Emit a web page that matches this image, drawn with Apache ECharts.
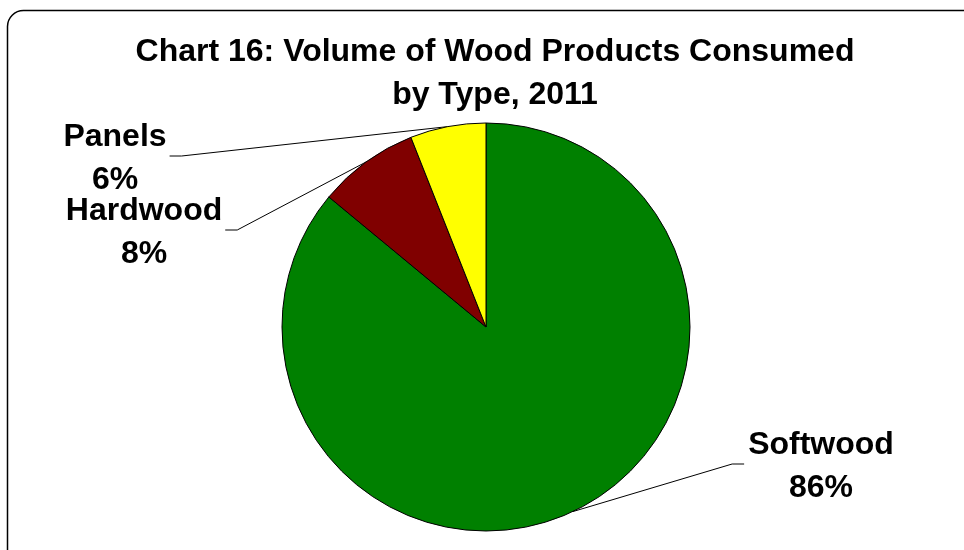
<!DOCTYPE html>
<html>
<head>
<meta charset="utf-8">
<script src="https://cdn.jsdelivr.net/npm/echarts@6/dist/echarts.min.js"></script>
<style>
  html, body { margin: 0; padding: 0; background: #fff; }
  #chart { width: 964px; height: 550px; }
</style>
</head>
<body>
<div id="chart"></div>
<script>
// data
var categories = ['Softwood', 'Hardwood', 'Panels']
var shares = [86, 8, 6]
var sliceColors = ['#008000', '#800000', '#ffff00']

// where Excel put each label: [centre x, centre y]
var labelSpots = [[821, 467], [144, 233], [115, 159]]

var font = '"Liberation Sans", Arial, sans-serif'
var pieCenter = [486, 327]

var myChart = echarts.init(document.getElementById('chart'))
myChart.setOption({
  animation: false,
  title: {
    text: 'Chart 16: Volume of Wood Products Consumed\nby Type, 2011',
    left: 490,
    top: 26,
    textAlign: 'center',
    textStyle: {
      fontFamily: font,
      fontSize: 32,
      fontWeight: 'bold',
      lineHeight: 43,
      color: '#000'
    }
  },
  graphic: [{
    type: 'rect',
    silent: true,
    z: -1,
    shape: { x: 7.5, y: 10.5, width: 1000, height: 600, r: 16 },
    style: { fill: 'none', stroke: '#000', lineWidth: 1.5 }
  }],
  series: [{
    type: 'pie',
    center: pieCenter,
    radius: 204,
    startAngle: 90,
    clockwise: true,
    avoidLabelOverlap: false,
    data: categories.map(function (name, i) {
      return { name: name, value: shares[i], itemStyle: { color: sliceColors[i] } }
    }),
    itemStyle: { borderColor: '#000', borderWidth: 1 },
    label: {
      show: true,
      position: 'outside',
      formatter: '{b}\n{d}%',
      fontFamily: font,
      fontSize: 32,
      fontWeight: 'bold',
      lineHeight: 43,
      color: '#000',
      align: 'center',
      padding: 0
    },
    labelLine: {
      show: true,
      length: 20,
      length2: 10,
      lineStyle: { color: '#000', width: 1 }
    },
    emphasis: { disabled: true },
    labelLayout: function (p) {
      var spot = labelSpots[p.dataIndex]
      var w = p.labelRect.width
      var onRight = spot[0] > pieCenter[0]
      var edge = onRight ? spot[0] - w / 2 - 4 : spot[0] + w / 2 + 3
      var elbow = onRight ? edge - 12 : edge + 12
      var start = p.labelLinePoints ? p.labelLinePoints[0] : [elbow, spot[1]]
      return {
        x: spot[0],
        y: spot[1],
        align: 'center',
        verticalAlign: 'middle',
        labelLinePoints: [start, [elbow, spot[1] - 3], [edge, spot[1] - 3]]
      }
    }
  }]
})
</script>
</body>
</html>
